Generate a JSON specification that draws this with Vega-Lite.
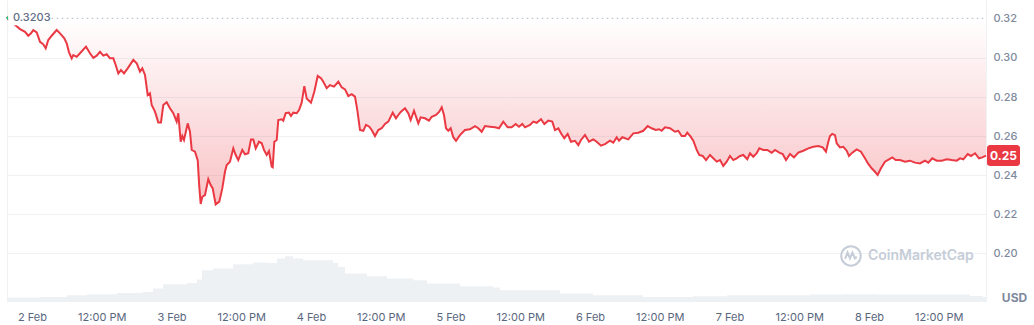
{
  "$schema": "https://vega.github.io/schema/vega-lite/v6.json",
  "width": 979,
  "height": 302,
  "autosize": {"type": "none"},
  "padding": {"left": 7, "top": 0, "right": 48, "bottom": 23},
  "background": "white",
  "config": {
    "view": {"stroke": null},
    "font": "Inter",
    "axis": {"labelFont": "Inter", "titleFont": "Inter"}
  },
  "datasets": {
    "price": [
      {"h":-4.30,"p":0.3211},{"h":-4.04,"p":0.3197},{"h":-3.10,"p":0.3174},{"h":-2.06,"p":0.3148},{"h":-1.20,"p":0.3134},{"h":-0.64,"p":0.3114},{"h":-0.17,"p":0.3126},{"h":0.22,"p":0.3143},{"h":0.81,"p":0.3131},{"h":1.38,"p":0.3083},{"h":1.94,"p":0.3070},{"h":2.36,"p":0.3049},{"h":2.80,"p":0.3092},{"h":3.39,"p":0.3114},{"h":4.25,"p":0.3143},{"h":4.82,"p":0.3126},{"h":5.56,"p":0.3101},{"h":5.97,"p":0.3075},{"h":6.37,"p":0.3029},{"h":6.83,"p":0.2998},{"h":7.11,"p":0.3015},{"h":7.69,"p":0.3006},{"h":8.26,"p":0.3024},{"h":9.29,"p":0.3058},{"h":9.98,"p":0.3024},{"h":10.55,"p":0.3001},{"h":11.13,"p":0.3012},{"h":11.70,"p":0.3032},{"h":12.27,"p":0.3012},{"h":12.85,"p":0.3019},{"h":13.42,"p":0.2998},{"h":13.99,"p":0.2998},{"h":14.40,"p":0.2964},{"h":14.85,"p":0.2921},{"h":15.31,"p":0.2938},{"h":15.83,"p":0.2921},{"h":16.46,"p":0.2947},{"h":17.43,"p":0.2990},{"h":18.01,"p":0.2973},{"h":18.58,"p":0.2930},{"h":18.98,"p":0.2947},{"h":19.44,"p":0.2913},{"h":19.91,"p":0.2810},{"h":20.30,"p":0.2819},{"h":20.59,"p":0.2759},{"h":21.16,"p":0.2725},{"h":21.73,"p":0.2670},{"h":22.19,"p":0.2670},{"h":22.59,"p":0.2759},{"h":23.17,"p":0.2773},{"h":23.74,"p":0.2742},{"h":24.31,"p":0.2717},{"h":24.89,"p":0.2674},{"h":25.17,"p":0.2717},{"h":25.58,"p":0.2571},{"h":25.86,"p":0.2600},{"h":26.15,"p":0.2580},{"h":26.79,"p":0.2665},{"h":27.18,"p":0.2622},{"h":27.48,"p":0.2529},{"h":28.04,"p":0.2520},{"h":28.51,"p":0.2477},{"h":28.78,"p":0.2341},{"h":29.02,"p":0.2252},{"h":29.30,"p":0.2289},{"h":29.76,"p":0.2298},{"h":30.33,"p":0.2379},{"h":30.74,"p":0.2349},{"h":31.09,"p":0.2332},{"h":31.60,"p":0.2250},{"h":32.22,"p":0.2264},{"h":32.74,"p":0.2332},{"h":33.20,"p":0.2417},{"h":33.50,"p":0.2452},{"h":34.06,"p":0.2469},{"h":34.63,"p":0.2537},{"h":35.05,"p":0.2503},{"h":35.49,"p":0.2477},{"h":36.18,"p":0.2529},{"h":36.65,"p":0.2507},{"h":37.21,"p":0.2512},{"h":37.68,"p":0.2583},{"h":38.07,"p":0.2583},{"h":38.49,"p":0.2537},{"h":39.05,"p":0.2571},{"h":39.52,"p":0.2563},{"h":39.91,"p":0.2529},{"h":40.38,"p":0.2503},{"h":40.77,"p":0.2523},{"h":41.24,"p":0.2443},{"h":41.41,"p":0.2440},{"h":41.69,"p":0.2571},{"h":42.10,"p":0.2580},{"h":42.37,"p":0.2682},{"h":42.96,"p":0.2686},{"h":43.23,"p":0.2679},{"h":43.65,"p":0.2717},{"h":44.21,"p":0.2720},{"h":44.56,"p":0.2703},{"h":44.95,"p":0.2720},{"h":45.54,"p":0.2717},{"h":45.94,"p":0.2733},{"h":46.40,"p":0.2771},{"h":46.85,"p":0.2856},{"h":47.26,"p":0.2793},{"h":48.00,"p":0.2771},{"h":48.57,"p":0.2827},{"h":49.15,"p":0.2908},{"h":49.72,"p":0.2896},{"h":50.12,"p":0.2878},{"h":50.70,"p":0.2845},{"h":51.27,"p":0.2861},{"h":51.96,"p":0.2853},{"h":52.70,"p":0.2878},{"h":53.28,"p":0.2850},{"h":53.85,"p":0.2839},{"h":54.42,"p":0.2805},{"h":55.00,"p":0.2815},{"h":55.57,"p":0.2802},{"h":55.97,"p":0.2733},{"h":56.43,"p":0.2631},{"h":57.00,"p":0.2627},{"h":57.46,"p":0.2657},{"h":58.03,"p":0.2648},{"h":58.44,"p":0.2631},{"h":59.01,"p":0.2600},{"h":59.58,"p":0.2631},{"h":60.16,"p":0.2640},{"h":60.73,"p":0.2662},{"h":61.30,"p":0.2674},{"h":62.06,"p":0.2720},{"h":62.62,"p":0.2691},{"h":63.02,"p":0.2708},{"h":63.48,"p":0.2725},{"h":64.17,"p":0.2742},{"h":64.74,"p":0.2717},{"h":65.15,"p":0.2682},{"h":65.72,"p":0.2730},{"h":66.46,"p":0.2665},{"h":66.87,"p":0.2696},{"h":67.61,"p":0.2691},{"h":68.30,"p":0.2679},{"h":68.77,"p":0.2699},{"h":69.51,"p":0.2708},{"h":70.07,"p":0.2725},{"h":70.49,"p":0.2747},{"h":70.88,"p":0.2708},{"h":71.23,"p":0.2640},{"h":71.62,"p":0.2627},{"h":72.03,"p":0.2640},{"h":72.48,"p":0.2594},{"h":72.95,"p":0.2576},{"h":73.63,"p":0.2605},{"h":74.49,"p":0.2631},{"h":75.35,"p":0.2635},{"h":76.22,"p":0.2651},{"h":76.78,"p":0.2640},{"h":77.37,"p":0.2622},{"h":77.94,"p":0.2651},{"h":78.79,"p":0.2648},{"h":79.66,"p":0.2645},{"h":80.34,"p":0.2640},{"h":81.08,"p":0.2674},{"h":81.84,"p":0.2645},{"h":82.53,"p":0.2645},{"h":83.22,"p":0.2662},{"h":83.78,"p":0.2648},{"h":84.35,"p":0.2662},{"h":84.82,"p":0.2645},{"h":85.68,"p":0.2657},{"h":86.25,"p":0.2674},{"h":86.83,"p":0.2668},{"h":87.57,"p":0.2686},{"h":88.14,"p":0.2662},{"h":88.83,"p":0.2679},{"h":89.51,"p":0.2674},{"h":89.98,"p":0.2631},{"h":90.55,"p":0.2640},{"h":91.01,"p":0.2614},{"h":91.58,"p":0.2589},{"h":92.16,"p":0.2611},{"h":92.73,"p":0.2571},{"h":93.41,"p":0.2576},{"h":93.99,"p":0.2554},{"h":94.45,"p":0.2580},{"h":95.14,"p":0.2605},{"h":95.83,"p":0.2571},{"h":96.57,"p":0.2583},{"h":97.15,"p":0.2571},{"h":97.89,"p":0.2551},{"h":98.58,"p":0.2559},{"h":99.44,"p":0.2576},{"h":100.01,"p":0.2566},{"h":100.59,"p":0.2594},{"h":100.99,"p":0.2576},{"h":101.56,"p":0.2594},{"h":102.59,"p":0.2583},{"h":103.45,"p":0.2614},{"h":104.31,"p":0.2617},{"h":105.17,"p":0.2627},{"h":105.93,"p":0.2651},{"h":106.61,"p":0.2640},{"h":107.30,"p":0.2631},{"h":107.87,"p":0.2635},{"h":108.33,"p":0.2627},{"h":108.90,"p":0.2645},{"h":109.76,"p":0.2640},{"h":110.62,"p":0.2622},{"h":111.19,"p":0.2627},{"h":111.78,"p":0.2600},{"h":112.34,"p":0.2600},{"h":112.74,"p":0.2617},{"h":113.32,"p":0.2597},{"h":113.77,"p":0.2576},{"h":114.36,"p":0.2529},{"h":114.80,"p":0.2503},{"h":115.39,"p":0.2498},{"h":115.96,"p":0.2477},{"h":116.65,"p":0.2503},{"h":117.21,"p":0.2486},{"h":117.80,"p":0.2469},{"h":118.37,"p":0.2477},{"h":118.93,"p":0.2447},{"h":119.52,"p":0.2469},{"h":120.08,"p":0.2498},{"h":120.65,"p":0.2477},{"h":121.24,"p":0.2486},{"h":121.81,"p":0.2498},{"h":122.37,"p":0.2503},{"h":123.06,"p":0.2481},{"h":123.53,"p":0.2512},{"h":124.09,"p":0.2494},{"h":124.68,"p":0.2512},{"h":125.13,"p":0.2537},{"h":125.81,"p":0.2529},{"h":126.50,"p":0.2529},{"h":127.26,"p":0.2515},{"h":127.83,"p":0.2529},{"h":128.57,"p":0.2515},{"h":129.15,"p":0.2508},{"h":129.72,"p":0.2477},{"h":130.41,"p":0.2508},{"h":131.10,"p":0.2491},{"h":131.84,"p":0.2515},{"h":132.70,"p":0.2525},{"h":133.56,"p":0.2537},{"h":134.42,"p":0.2545},{"h":135.28,"p":0.2549},{"h":136.03,"p":0.2542},{"h":136.60,"p":0.2520},{"h":137.00,"p":0.2571},{"h":137.29,"p":0.2600},{"h":137.68,"p":0.2611},{"h":138.15,"p":0.2605},{"h":138.44,"p":0.2563},{"h":139.01,"p":0.2542},{"h":139.58,"p":0.2545},{"h":140.16,"p":0.2525},{"h":140.56,"p":0.2498},{"h":141.13,"p":0.2515},{"h":141.88,"p":0.2532},{"h":142.62,"p":0.2520},{"h":143.31,"p":0.2486},{"h":143.88,"p":0.2457},{"h":144.46,"p":0.2435},{"h":145.03,"p":0.2417},{"h":145.49,"p":0.2401},{"h":146.06,"p":0.2435},{"h":146.75,"p":0.2469},{"h":147.44,"p":0.2481},{"h":148.01,"p":0.2491},{"h":148.59,"p":0.2477},{"h":149.33,"p":0.2477},{"h":150.19,"p":0.2469},{"h":151.05,"p":0.2474},{"h":151.91,"p":0.2464},{"h":152.77,"p":0.2460},{"h":153.63,"p":0.2474},{"h":154.20,"p":0.2464},{"h":154.89,"p":0.2486},{"h":155.65,"p":0.2474},{"h":156.51,"p":0.2474},{"h":157.37,"p":0.2481},{"h":158.23,"p":0.2477},{"h":159.09,"p":0.2474},{"h":159.66,"p":0.2486},{"h":160.23,"p":0.2481},{"h":160.98,"p":0.2508},{"h":161.55,"p":0.2498},{"h":162.24,"p":0.2512},{"h":162.93,"p":0.2486},{"h":163.49,"p":0.2491},{"h":164.13,"p":0.2500}
    ],
    "volume": [
      {"h":-4.30,"v":1.46},{"h":1.38,"v":1.66},{"h":6.02,"v":2.22},{"h":9.46,"v":2.55},{"h":14.62,"v":2.98},{"h":19.10,"v":3.31},{"h":20.82,"v":4.44},{"h":22.54,"v":5.86},{"h":26.67,"v":6.29},{"h":28.39,"v":7.42},{"h":29.25,"v":10.5},{"h":31.14,"v":11.06},{"h":34.58,"v":12.48},{"h":38.02,"v":13.05},{"h":40.43,"v":12.91},{"h":42.15,"v":14.37},{"h":43.53,"v":15.13},{"h":44.90,"v":14.37},{"h":46.62,"v":13.81},{"h":50.06,"v":13.81},{"h":51.78,"v":12.91},{"h":52.64,"v":11.59},{"h":53.85,"v":9.40},{"h":57.63,"v":8.51},{"h":61.08,"v":7.75},{"h":65.55,"v":7.19},{"h":67.96,"v":6.09},{"h":73.63,"v":5.20},{"h":79.31,"v":4.77},{"h":80.52,"v":3.87},{"h":87.91,"v":3.87},{"h":90.84,"v":2.78},{"h":96.52,"v":2.22},{"h":105.12,"v":1.66},{"h":113.72,"v":1.89},{"h":119.57,"v":2.22},{"h":128.17,"v":2.22},{"h":133.85,"v":2.45},{"h":139.53,"v":2.55},{"h":145.38,"v":2.45},{"h":153.98,"v":2.45},{"h":161.38,"v":1.99},{"h":163.61,"v":1.66},{"h":164.13,"v":1.66}
    ],
    "one": [{}]
  },
  "resolve": {"scale": {"y": "independent"}},
  "layer": [
    {
      "data": {"name": "volume"},
      "mark": {"type": "area", "color": "#eef1f4", "interpolate": "step-after"},
      "encoding": {
        "x": {"field": "h", "type": "quantitative", "scale": {"domain": [-4.30, 164.13], "nice": false, "zero": false},
          "axis": {"values": [0,12,24,36,48,60,72,84,96,108,120,132,144,156], "labelExpr": "datum.value % 24 == 0 ? (datum.value / 24 + 2) + ' Feb' : '12:00 PM'", "grid": false, "domain": false, "ticks": false, "labelPadding": 9, "labelFontSize": 11, "labelColor": "#58667e", "title": null}},
        "y": {"field": "v", "type": "quantitative", "scale": {"domain": [0, 100], "nice": false},
          "axis": {"orient": "left", "labels": false, "ticks": false, "grid": false, "domain": true, "domainColor": "#eff2f5", "title": null}}
      }
    },
    {
      "layer": [
        {
          "data": {"name": "price"},
          "mark": {"type": "area", "fill": {"gradient": "linear", "x1": 0, "y1": 0, "x2": 0, "y2": 1, "stops": [{"offset": 0, "color": "rgba(234,57,67,0.0)"}, {"offset": 1, "color": "rgba(234,57,67,0.3)"}]}},
          "encoding": {
            "x": {"field": "h", "type": "quantitative", "scale": {"domain": [-4.30, 164.13], "nice": false, "zero": false}},
            "y": {"field": "p", "type": "quantitative", "scale": {"domain": [0.175, 0.3297], "nice": false, "zero": false},
              "axis": {"orient": "right", "values": [0.20, 0.22, 0.24, 0.26, 0.28, 0.30, 0.32], "format": ".2f", "ticks": false, "domain": true, "domainColor": "#eff2f5", "grid": true, "gridColor": "#eff2f5", "gridOpacity": {"condition": {"test": "datum.value > 0.31", "value": 0}, "value": 1}, "labelPadding": 7, "labelFontSize": 11, "labelFontWeight": 500, "labelColor": "#808a9d", "title": "USD", "titleAngle": 0, "titleX": 28, "titleY": 297, "titleAlign": "center", "titleBaseline": "middle", "titleFontSize": 12, "titleFontWeight": "bold", "titleColor": "#808a9d"}},
            "y2": {"datum": 0.3203}
          }
        },
        {
          "data": {"name": "one"},
          "mark": {"type": "rule", "color": "#a9b3c1", "strokeDash": [1.5, 3.5], "strokeWidth": 1},
          "encoding": {
            "x": {"datum": 3.4, "type": "quantitative"},
            "x2": {"datum": 164.13},
            "y": {"datum": 0.3203, "type": "quantitative"}
          }
        },
        {
          "data": {"name": "price"},
          "mark": {"type": "line", "color": "#ea3943", "strokeWidth": 2, "interpolate": "linear"},
          "encoding": {
            "x": {"field": "h", "type": "quantitative"},
            "y": {"field": "p", "type": "quantitative"}
          }
        },
        {
          "data": {"name": "price"},
          "transform": [{"filter": "datum.h <= -4.0"}],
          "mark": {"type": "line", "color": "#16c784", "strokeWidth": 2},
          "encoding": {
            "x": {"field": "h", "type": "quantitative"},
            "y": {"field": "p", "type": "quantitative"}
          }
        },
        {
          "data": {"name": "one"},
          "mark": {"type": "rect", "color": "white"},
          "encoding": {
            "x": {"datum": -4.1, "type": "quantitative"},
            "x2": {"datum": 3.1},
            "y": {"datum": 0.3236, "type": "quantitative"},
            "y2": {"datum": 0.3168}
          }
        },
        {
          "data": {"name": "one"},
          "mark": {"type": "text", "text": "0.3203", "align": "left", "baseline": "middle", "dx": 6, "fontSize": 11, "fontWeight": 500, "color": "#616e85"},
          "encoding": {
            "x": {"datum": -4.30, "type": "quantitative"},
            "y": {"datum": 0.3203, "type": "quantitative"}
          }
        },
        {
          "data": {"name": "one"},
          "mark": {"type": "rect", "color": "#ea3943", "cornerRadius": 3},
          "encoding": {
            "x": {"datum": 164.30, "type": "quantitative"},
            "x2": {"datum": 169.98},
            "y": {"datum": 0.2554, "type": "quantitative"},
            "y2": {"datum": 0.2447}
          }
        },
        {
          "data": {"name": "one"},
          "mark": {"type": "text", "text": "0.25", "align": "center", "baseline": "middle", "fontSize": 12, "fontWeight": "bold", "color": "white"},
          "encoding": {
            "x": {"datum": 167.14, "type": "quantitative"},
            "y": {"datum": 0.25, "type": "quantitative"}
          }
        },
        {
          "data": {"name": "one"},
          "mark": {"type": "point", "shape": "circle", "filled": false, "stroke": "#c6cdd8", "strokeWidth": 2, "size": 380, "opacity": 1},
          "encoding": {
            "x": {"datum": 140.90, "type": "quantitative"},
            "y": {"datum": 0.1986, "type": "quantitative"}
          }
        },
        {
          "data": {"name": "one"},
          "mark": {"type": "point", "shape": "M-0.6,0.3 L-0.35,-0.35 L-0.1,0.25 L0.15,-0.35 L0.4,0.25 L0.6,0.1", "filled": false, "stroke": "#c6cdd8", "strokeWidth": 2, "size": 380, "opacity": 1},
          "encoding": {
            "x": {"datum": 140.90, "type": "quantitative"},
            "y": {"datum": 0.1986, "type": "quantitative"}
          }
        },
        {
          "data": {"name": "one"},
          "mark": {"type": "text", "text": "CoinMarketCap", "align": "left", "baseline": "middle", "fontSize": 14, "fontWeight": 600, "color": "#c6cdd8"},
          "encoding": {
            "x": {"datum": 143.83, "type": "quantitative"},
            "y": {"datum": 0.1986, "type": "quantitative"}
          }
        }
      ]
    }
  ]
}
